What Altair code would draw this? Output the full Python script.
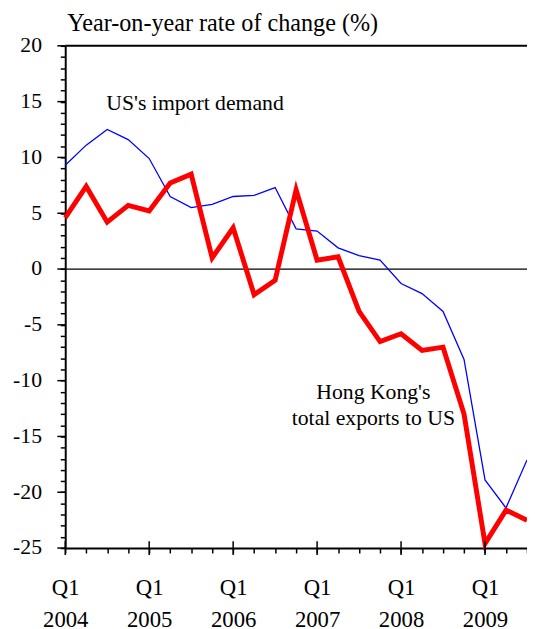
import altair as alt
import pandas as pd

# ---- data ----
quarters = list(range(23))  # 0 = Q1 2004 ... 22 = Q3 2009
hk_exports = [4.6, 7.4, 4.2, 5.7, 5.2, 7.7, 8.5, 1.0, 3.7, -2.3, -1.0,
              7.1, 0.8, 1.1, -3.8, -6.5, -5.8, -7.3, -7.0, -13.0, -24.6, -21.6, -22.5]
us_imports = [9.3, 11.1, 12.5, 11.6, 9.9, 6.5, 5.5, 5.8, 6.5, 6.6, 7.3,
              3.6, 3.4, 1.9, 1.2, 0.8, -1.3, -2.2, -3.8, -8.1, -18.9, -21.4, -17.1]
year_ticks = [0, 4, 8, 12, 16, 20]
years = [2004, 2005, 2006, 2007, 2008, 2009]
y_major = [-25, -20, -15, -10, -5, 0, 5, 10, 15, 20]
y_minor = list(range(-25, 21))

title_text = "Year-on-year rate of change (%)"
us_label = "US's import demand"
hk_label = ["Hong Kong's", "total exports to US"]

W, H = 468, 509
FONT = "Liberation Serif"

df = pd.DataFrame({"q": quarters, "hk": hk_exports, "us": us_imports})
df_year = pd.DataFrame({"q": year_ticks, "year": years})
df_ymaj = pd.DataFrame({"v": y_major})

x_scale = alt.Scale(domain=[0, 22], nice=False, zero=False)
y_scale = alt.Scale(domain=[-25, 20], nice=False, zero=False)

x_axis = alt.Axis(
    values=quarters, title=None, grid=False,
    labelExpr="datum.value % 4 == 0 ? ['Q1', toString(2004 + datum.value / 4)] : ''",
    labelOverlap=False, labelFlush=False, labelFontSize=23, labelLineHeight=33,
    tickSize=5, tickWidth=1.5, tickColor="black",
    labelPadding=24, labelBaseline="top",
    domainWidth=2, domainColor="black", labelColor="black", labelFont=FONT,
)
y_axis = alt.Axis(
    values=y_minor, title=None, grid=False,
    labelExpr="datum.value % 5 == 0 ? toString(datum.value) : ''",
    labelOverlap=False, labelFlush=False, labelFontSize=22,
    tickSize=5, tickWidth=1.5, tickColor="black",
    labelPadding=19, labelOffset=-1,
    domainWidth=2, domainColor="black", labelColor="black", labelFont=FONT,
)

def X(field):
    return alt.X(field, scale=x_scale, axis=x_axis)

def Y(field):
    return alt.Y(field, scale=y_scale, axis=y_axis)

base = alt.Chart(df)

us_line = base.mark_line(color="#0000ff", strokeWidth=1.3, clip=False).encode(
    x=X("q:Q"), y=Y("us:Q"),
)
hk_line = base.mark_line(color="#ff0000", strokeWidth=5, strokeJoin="miter", clip=False).encode(
    x=X("q:Q"), y=Y("hk:Q"),
)

zero_rule = alt.Chart(pd.DataFrame({"v": [0]})).mark_rule(color="black", strokeWidth=1.3).encode(
    y=Y("v:Q"),
)
top_rule = alt.Chart(pd.DataFrame({"v": [20]})).mark_rule(color="black", strokeWidth=2).encode(
    y=Y("v:Q"),
)

# major x ticks crossing the axis
x_major = alt.Chart(df_year).mark_rule(color="black", strokeWidth=1.5).encode(
    x=X("q:Q"),
    y=alt.value(H - 7), y2=alt.value(H + 7),
)
# major y ticks (longer)
y_major_ticks = alt.Chart(df_ymaj).mark_rule(color="black", strokeWidth=1.5).encode(
    y=Y("v:Q"),
    x=alt.value(-8), x2=alt.value(0),
)

title_mark = alt.Chart(pd.DataFrame({"t": [title_text]})).mark_text(
    font=FONT, fontSize=24.5, align="left", baseline="alphabetic", color="black"
).encode(text="t:N", x=alt.value(2), y=alt.value(-15))

us_text = alt.Chart(pd.DataFrame({"t": [us_label], "q": [1.96], "v": [14.25]})).mark_text(
    font=FONT, fontSize=22, align="left", baseline="alphabetic", color="black"
).encode(text="t:N", x=X("q:Q"), y=Y("v:Q"))

hk_text = alt.Chart(pd.DataFrame({"t": hk_label, "q": [14.68, 14.68], "v": [-11.6, -14.0]})).mark_text(
    font=FONT, fontSize=22, align="center", baseline="alphabetic", color="black"
).encode(text="t:N", x=X("q:Q"), y=Y("v:Q"))

chart = alt.layer(
    zero_rule, top_rule, us_line, hk_line, x_major, y_major_ticks, title_mark, us_text, hk_text
).properties(
    width=W, height=H,
    padding={"left": 58, "top": 34, "right": 0, "bottom": 100},
    autosize=alt.AutoSizeParams(type="none"),
).configure(
    font=FONT, background="white"
).configure_view(stroke=None).configure_axis(
    labelOverlap=False, labelFont=FONT, labelFlush=False
)

chart.save("out.html", embed_options={"renderer": "svg", "actions": False})
